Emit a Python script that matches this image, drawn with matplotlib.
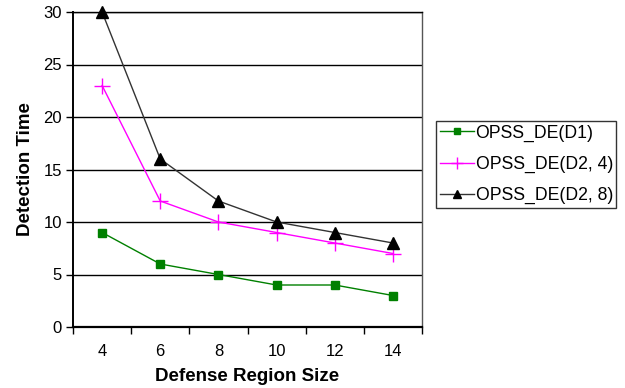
import matplotlib
matplotlib.use("Agg")
import matplotlib.pyplot as plt

categories = ["4", "6", "8", "10", "12", "14"]
d1 = [9, 6, 5, 4, 4, 3]
d2_4 = [23, 12, 10, 9, 8, 7]
d2_8 = [30, 16, 12, 10, 9, 8]
series_labels = ["OPSS_DE(D1)", "OPSS_DE(D2, 4)", "OPSS_DE(D2, 8)"]
y_ticks = [0, 5, 10, 15, 20, 25, 30]

plt.rcParams['font.family'] = ['Liberation Sans', 'DejaVu Sans']

fig = plt.figure(figsize=(6.25, 3.88), dpi=100)
ax = fig.add_axes([73/625, 1 - 327/388, (422-73)/625, (327-12)/388])

x = list(range(len(categories)))
ax.plot(x, d1, color="#008000", marker="s", markersize=6, lw=1.0, label=series_labels[0], clip_on=False, zorder=3)
ax.plot(x, d2_4, color="#FF00FF", marker="+", markersize=12, markeredgewidth=1.0, lw=1.0, label=series_labels[1], clip_on=False, zorder=3)
ax.plot(x, d2_8, color="#333333", marker="^", markersize=8, markerfacecolor="black", markeredgecolor="black", lw=1.0, label=series_labels[2], clip_on=False, zorder=3)

ax.set_xlim(-0.5, len(categories) - 0.5)
ax.set_ylim(0, 30)
ax.set_yticks(y_ticks)
ax.set_yticklabels([str(v) for v in y_ticks], fontsize=12)
ax.set_xticks(x)
ax.set_xticklabels(categories, fontsize=12)
ax.tick_params(axis='x', which='major', length=0, pad=12)
ax.set_xticks([i - 0.5 for i in range(len(categories) + 1)], minor=True)
ax.tick_params(axis='x', which='minor', length=5, width=1, direction='out')
ax.tick_params(axis='y', length=5, width=1, direction='out', pad=3)

for v in y_ticks[1:]:
    ax.axhline(v, color="black", lw=1.0, zorder=1)

for s in ax.spines.values():
    s.set_color("black")
    s.set_linewidth(1.0)
ax.spines['bottom'].set_linewidth(1.6)
ax.spines['left'].set_linewidth(1.4)
ax.spines['right'].set_color("#555555")

ax.set_xlabel("Defense Region Size", fontsize=13.5, fontweight="bold", labelpad=7)
ax.set_ylabel("Detection Time", fontsize=13.5, fontweight="bold", labelpad=7)

leg = fig.legend(loc="upper left", bbox_to_anchor=(436/625, 1 - 121/388), fontsize=12.7,
                 frameon=True, fancybox=False, edgecolor="black", handlelength=1.93,
                 handletextpad=0.11, borderpad=0.2, labelspacing=0.8, borderaxespad=0,
                 markerscale=0.7)
leg.get_frame().set_linewidth(1.0)

fig.savefig("out.png", dpi=100)
